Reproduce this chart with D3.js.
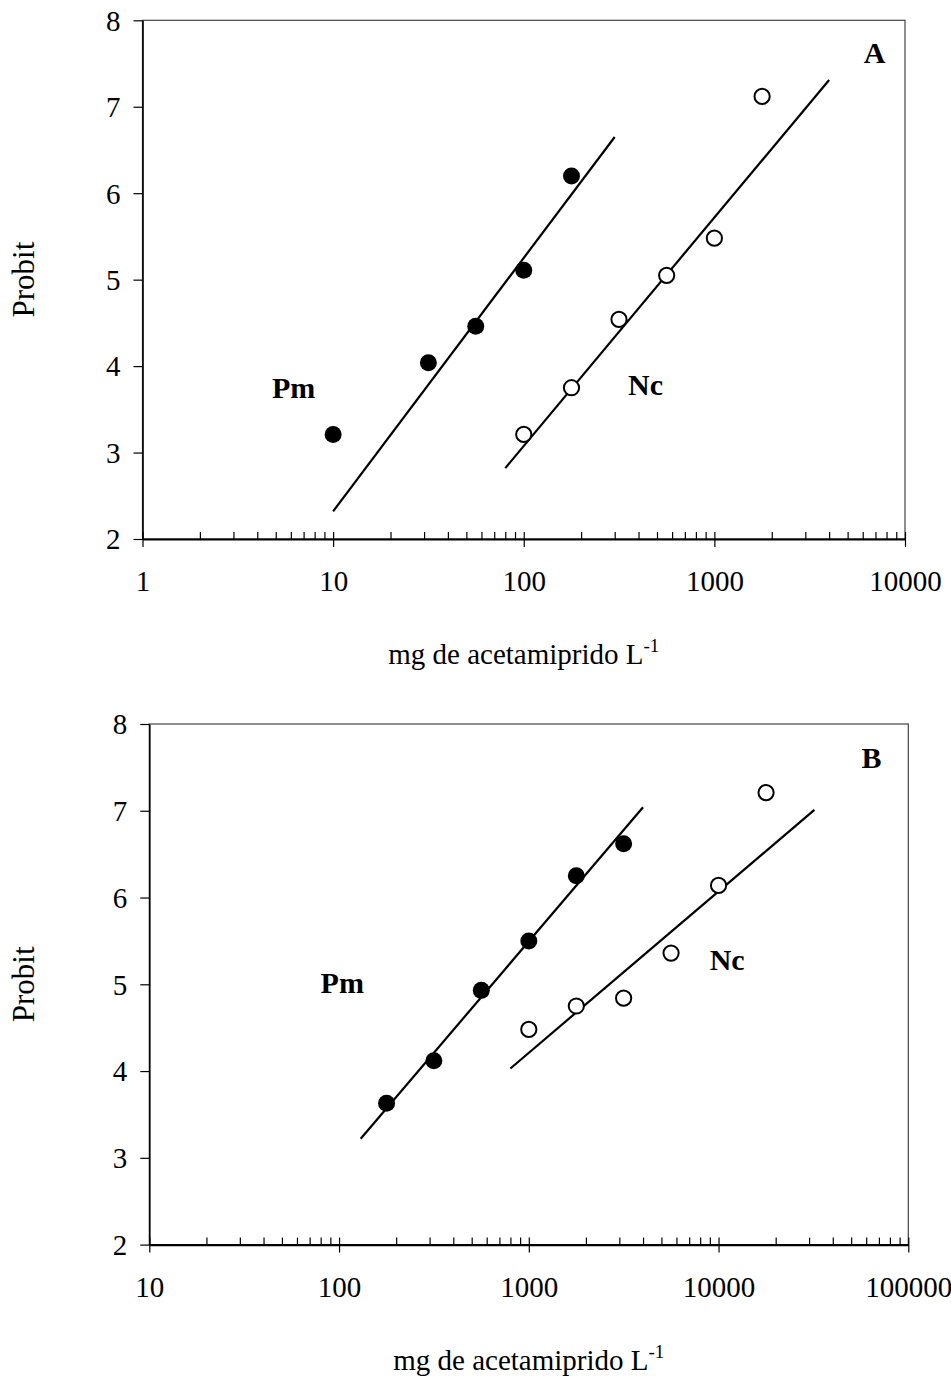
<!DOCTYPE html>
<html>
<head>
<meta charset="utf-8">
<script src="https://cdn.jsdelivr.net/npm/d3@7"></script>
<style>
body{margin:0;background:#fff;}
svg text{font-family:"Liberation Serif","Times New Roman",serif;fill:#000;}
</style>
</head>
<body>
<script>
//panel A data (dose in mg/L, probit)
var aPmDose = [10, 31.6, 56, 100, 178];
var aPmProbit = [3.21, 4.04, 4.46, 5.11, 6.20];
var aNcDose = [100, 178, 316, 562, 1000, 1780];
var aNcProbit = [3.21, 3.75, 4.54, 5.05, 5.48, 7.12];
var aPmFitDose = [10, 300];
var aPmFitProbit = [2.32, 6.65];
var aNcFitDose = [80, 4000];
var aNcFitProbit = [2.82, 7.31];

//panel B data
var bPmDose = [178, 316, 562, 1000, 1780, 3160];
var bPmProbit = [3.63, 4.12, 4.93, 5.50, 6.25, 6.62];
var bNcDose = [1000, 1780, 3160, 5620, 10000, 17800];
var bNcProbit = [4.48, 4.75, 4.84, 5.36, 6.14, 7.21];
var bPmFitDose = [130, 4000];
var bPmFitProbit = [3.22, 7.04];
var bNcFitDose = [800, 32000];
var bNcFitProbit = [4.03, 7.01];

//tick labels
var probitTicks = [2, 3, 4, 5, 6, 7, 8];
var aDoseTicks = [1, 10, 100, 1000, 10000];
var bDoseTicks = [10, 100, 1000, 10000, 100000];

//annotation text
var aLabels = [["Pm", 6.2, 3.63], ["Nc", 435, 3.66], ["A", 6920, 7.51]];
var bLabels = [["Pm", 104, 4.90], ["Nc", 11100, 5.16], ["B", 64000, 7.49]];

var yTitle = "Probit";
var xTitle = "mg de acetamiprido L";
var xTitleSup = "-1";

var svg = d3.select("body")
    .append("svg")
    .attr("width", 951)
    .attr("height", 1380);

drawPanel({
    left: 142.5, right: 905, top: 20.3, bottom: 539,
    doseTicks: aDoseTicks,
    pm: [aPmDose, aPmProbit], nc: [aNcDose, aNcProbit],
    pmFit: [aPmFitDose, aPmFitProbit], ncFit: [aNcFitDose, aNcFitProbit],
    labels: aLabels
});
drawPanel({
    left: 149.3, right: 908.3, top: 724, bottom: 1244.6,
    doseTicks: bDoseTicks,
    pm: [bPmDose, bPmProbit], nc: [bNcDose, bNcProbit],
    pmFit: [bPmFitDose, bPmFitProbit], ncFit: [bNcFitDose, bNcFitProbit],
    labels: bLabels
});

function zip(pair){
    return pair[0].map(function(d, i){ return [d, pair[1][i]]; });
}

function drawPanel(p){
    var x = d3.scaleLog()
        .domain([p.doseTicks[0], p.doseTicks[p.doseTicks.length - 1]])
        .range([p.left, p.right]);
    var y = d3.scaleLinear()
        .domain([2, 8])
        .range([p.bottom, p.top]);

    //minor ticks 2..9 in each decade
    var minors = [];
    for (var i = 0; i < p.doseTicks.length - 1; i++){
        for (var m = 2; m <= 9; m++){
            minors.push(p.doseTicks[i] * m);
        }
    }

    var g = svg.append("g");

    //plot frame
    g.append("rect")
        .attr("x", p.left)
        .attr("y", p.top)
        .attr("width", p.right - p.left)
        .attr("height", p.bottom - p.top)
        .attr("fill", "none")
        .attr("stroke", "#444")
        .attr("stroke-width", 1.2);

    //y axis
    var yAxis = g.append("g")
        .attr("transform", "translate(" + p.left + ",0)")
        .call(d3.axisLeft(y)
            .tickValues(probitTicks)
            .tickSize(9)
            .tickSizeOuter(0)
            .tickPadding(13)
            .tickFormat(d3.format("d")));
    yAxis.select(".domain").attr("stroke-width", 1.6);
    yAxis.selectAll(".tick line").attr("stroke-width", 1.2);
    yAxis.selectAll(".tick text")
        .attr("font-family", null)
        .attr("font-size", 29)
        .attr("dy", "0.34em");

    //x axis: inner ticks (minor + major)
    var xInner = g.append("g")
        .attr("transform", "translate(0," + p.bottom + ")")
        .call(d3.axisBottom(x)
            .tickValues(minors.concat(p.doseTicks))
            .tickSize(-7)
            .tickSizeOuter(0)
            .tickFormat(""));
    xInner.select(".domain").remove();
    xInner.selectAll(".tick line").attr("stroke-width", 1.2);

    //x axis: major ticks outside with labels
    var xAxis = g.append("g")
        .attr("transform", "translate(0," + p.bottom + ")")
        .call(d3.axisBottom(x)
            .tickValues(p.doseTicks)
            .tickSize(8)
            .tickSizeOuter(0)
            .tickFormat(d3.format("d")));
    xAxis.select(".domain").attr("stroke-width", 2.2);
    xAxis.selectAll(".tick line").attr("stroke-width", 1.2);
    xAxis.selectAll(".tick text")
        .attr("font-family", null)
        .attr("font-size", 29)
        .attr("y", 52)
        .attr("dy", null);

    //fitted lines
    var line = d3.line()
        .x(function(d){ return x(d[0]); })
        .y(function(d){ return y(d[1]); });
    [p.pmFit, p.ncFit].forEach(function(fit){
        g.append("path")
            .datum(zip(fit))
            .attr("d", line)
            .attr("fill", "none")
            .attr("stroke", "#000")
            .attr("stroke-width", 2.2);
    });

    //observed points
    g.selectAll(".pm")
        .data(zip(p.pm))
        .enter()
        .append("circle")
        .attr("class", "pm")
        .attr("cx", function(d){ return x(d[0]); })
        .attr("cy", function(d){ return y(d[1]); })
        .attr("r", 8.5)
        .attr("fill", "#000");
    g.selectAll(".nc")
        .data(zip(p.nc))
        .enter()
        .append("circle")
        .attr("class", "nc")
        .attr("cx", function(d){ return x(d[0]); })
        .attr("cy", function(d){ return y(d[1]); })
        .attr("r", 7.6)
        .attr("fill", "#fff")
        .attr("stroke", "#000")
        .attr("stroke-width", 2);

    //series and panel labels
    g.selectAll(".lab")
        .data(p.labels)
        .enter()
        .append("text")
        .attr("class", "lab")
        .attr("x", function(d){ return x(d[1]); })
        .attr("y", function(d){ return y(d[2]); })
        .attr("text-anchor", "middle")
        .attr("font-size", 30)
        .attr("font-weight", "bold")
        .text(function(d){ return d[0]; });

    //axis titles
    var cy = (p.top + p.bottom) / 2;
    g.append("text")
        .attr("transform", "translate(" + 34 + "," + cy + ") rotate(-90)")
        .attr("text-anchor", "middle")
        .attr("font-size", 31)
        .text(yTitle);

    var t = g.append("text")
        .attr("x", (p.left + p.right) / 2)
        .attr("y", p.bottom + 125)
        .attr("text-anchor", "middle")
        .attr("font-size", 29);
    t.append("tspan").text(xTitle);
    t.append("tspan")
        .attr("font-size", 19)
        .attr("dy", -12)
        .text(xTitleSup);
}
</script>
</body>
</html>
